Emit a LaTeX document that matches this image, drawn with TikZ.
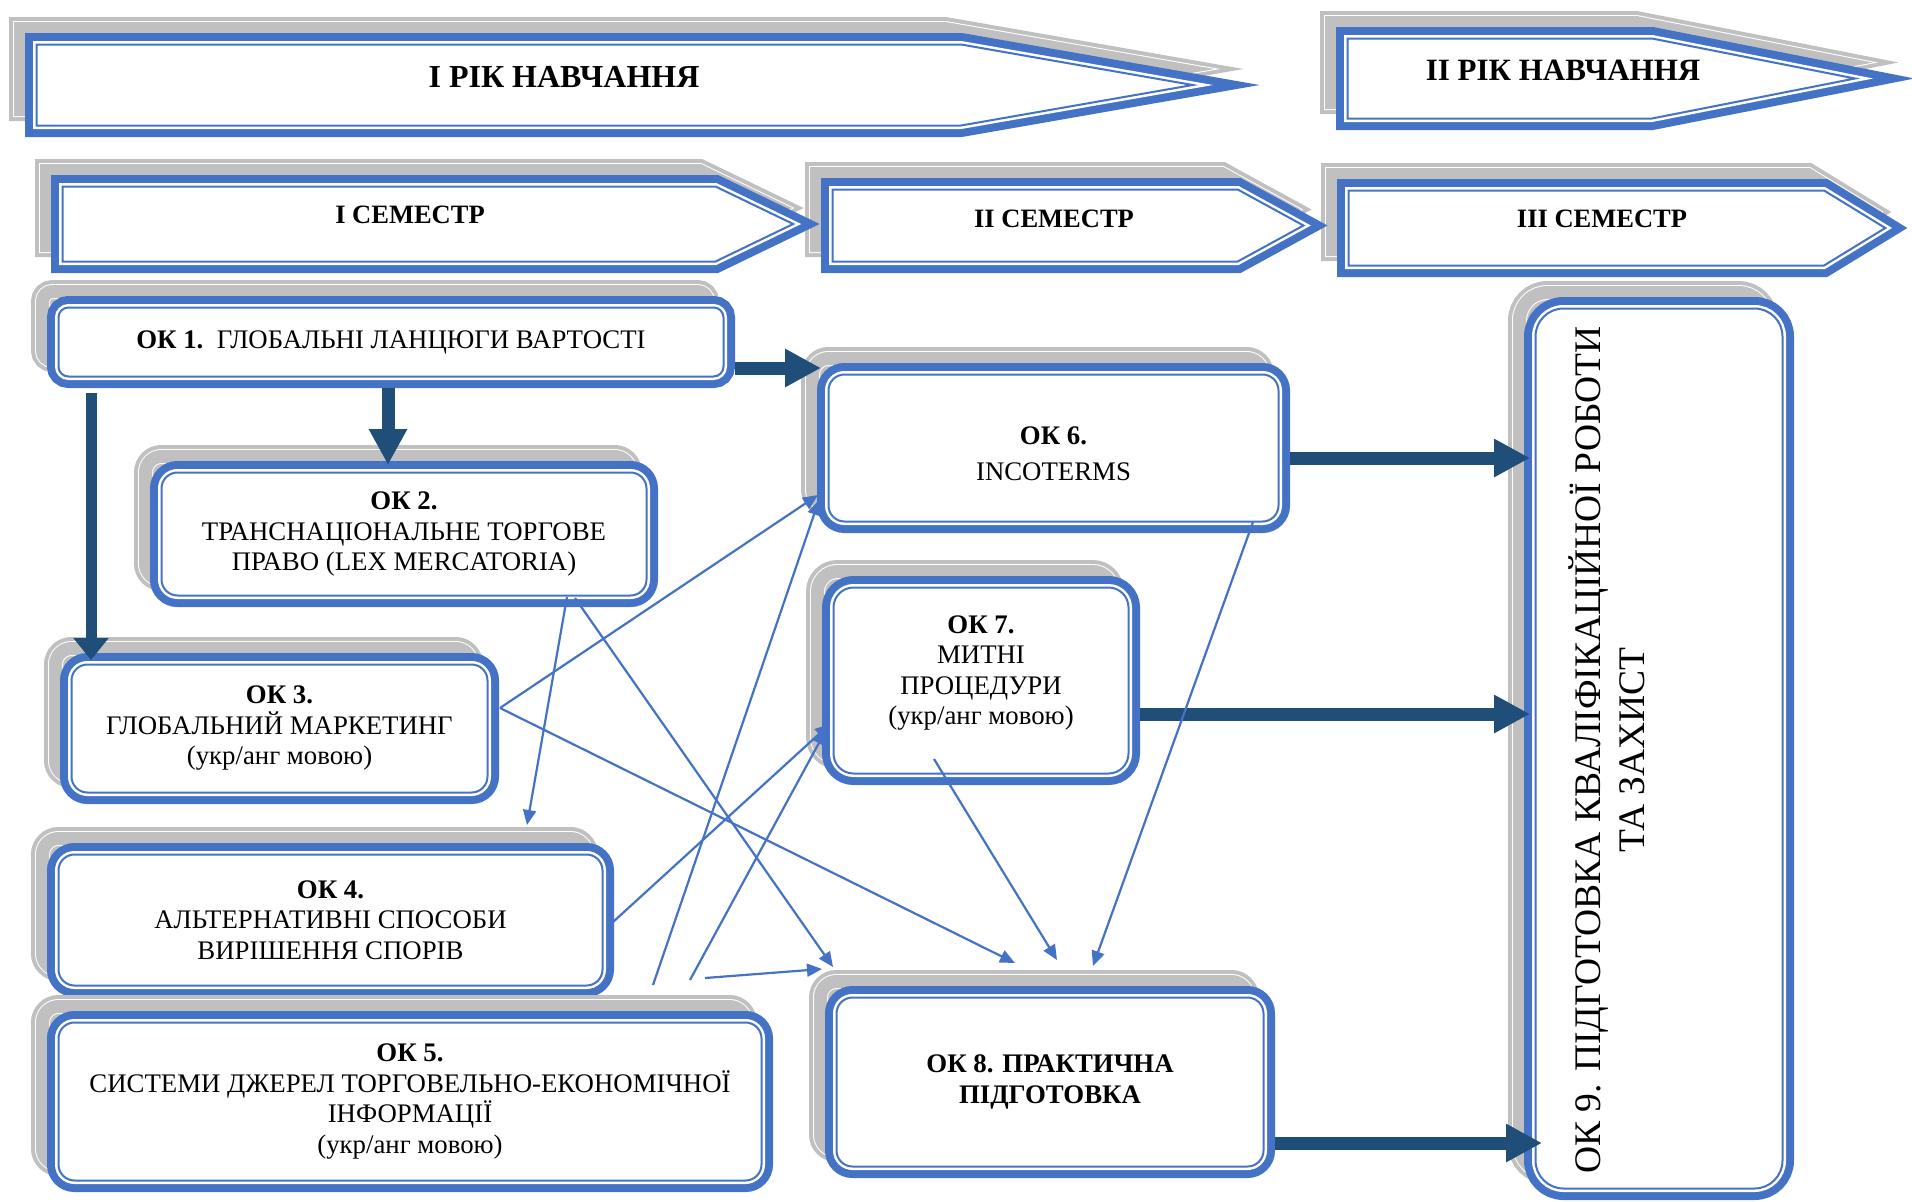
\documentclass[tikz,border=0pt]{standalone}
\usepackage{fontspec}
\setmainfont{Liberation Serif}
\usetikzlibrary{arrows.meta,calc}

\definecolor{okblue}{RGB}{68,114,196}
\definecolor{okdark}{RGB}{31,78,121}
\definecolor{okshadow}{RGB}{192,192,192}

\newcommand{\boxfont}{\fontsize{26.8}{30.5}\selectfont}

\begin{document}
\begin{tikzpicture}[x=1pt, y=-1pt,
	okframe/.style={draw=okblue, line width=2pt, fill=white,
		preaction={fill=okshadow, draw=okshadow, line width=23pt, transform canvas={xshift=-16pt, yshift=16pt}},
		preaction={draw=white, line width=15pt, transform canvas={xshift=-16pt, yshift=16pt}},
		preaction={draw=okshadow, line width=13pt, transform canvas={xshift=-16pt, yshift=16pt}},
		preaction={draw=okblue, line width=23pt},
		preaction={draw=white, line width=7pt}},
	okbox/.style={okframe, rounded corners=16pt, outer sep=11.5pt, inner sep=0pt, align=center, font=\boxfont},
	titletext/.style={anchor=base, font=\fontsize{26.5}{30}\selectfont\bfseries},
	bigarrow/.style={draw=okdark, line width=13pt, -{Triangle[length=36pt, width=36pt]}},
	link/.style={draw=okblue, line width=2.2pt, -{Triangle[length=15pt, width=13pt]}}]
		\useasboundingbox (0,0) rectangle (1912,1202);

		\draw[okframe] (36.5,44.5) -- (961,44.5) -- (1192.7,85) -- (961,125.5) -- (36.5,125.5) -- cycle;
		\draw[okframe] (1347.5,38.5) -- (1652,38.5) -- (1855,78.5) -- (1652,118.5) -- (1347.5,118.5) -- cycle;
		\node[titletext, font=\fontsize{32}{36}\selectfont\bfseries] (year1) at (564,87) {I РІК НАВЧАННЯ};
		\node[titletext, font=\fontsize{31}{36}\selectfont\bfseries] (year2) at (1563,80) {II РІК НАВЧАННЯ};

		\draw[okframe] (1348.5,190.5) -- (1824,190.5) -- (1885.3,228) -- (1824,265.5) -- (1348.5,265.5) -- cycle;
		\draw[okframe] (832.5,189.5) -- (1237.7,189.5) -- (1303.5,225.5) -- (1237.7,261.5) -- (832.5,261.5) -- cycle;
		\draw[okframe] (62.5,186.5) -- (715.5,186.5) -- (793.2,224) -- (715.5,261.5) -- (62.5,261.5) -- cycle;
		\node[titletext] (sem1) at (410,223) {I СЕМЕСТР};
		\node[titletext] (sem2) at (1054,227) {II СЕМЕСТР};
		\node[titletext] (sem3) at (1602,227) {III СЕМЕСТР};

		\node[okbox, minimum width=665pt, minimum height=69pt, rounded corners=10pt] (ok1) at (391,342) {\textbf{ОК 1.}\ \ ГЛОБАЛЬНІ ЛАНЦЮГИ ВАРТОСТІ};
		\node[okbox, minimum width=485pt, minimum height=123pt] (ok2) at (404,534) {\textbf{ОК 2.}\\ТРАНСНАЦІОНАЛЬНЕ ТОРГОВЕ\\ПРАВО (LEX MERCATORIA)};
		\node[okbox, minimum width=416pt, minimum height=128pt] (ok3) at (279.5,728.5) {\textbf{ОК 3.}\\ГЛОБАЛЬНИЙ МАРКЕТИНГ\\(укр/анг мовою)};
		\node[okbox, minimum width=544pt, minimum height=131pt] (ok4) at (330.5,920) {\textbf{ОК 4.}\\АЛЬТЕРНАТИВНІ СПОСОБИ\\ВИРІШЕННЯ СПОРІВ};
		\node[okbox, minimum width=703pt, minimum height=158pt] (ok5) at (410,1101.5) {\textbf{ОК 5.}\\СИСТЕМИ ДЖЕРЕЛ ТОРГОВЕЛЬНО-ЕКОНОМІЧНОЇ\\ІНФОРМАЦІЇ\\(укр/анг мовою)};
		\node[okbox, minimum width=450pt, minimum height=147pt, text height=66pt] (ok6) at (1053.5,448) {\textbf{ОК 6.}\\[6pt]INCOTERMS};
		\node[okbox, minimum width=295pt, minimum height=186pt, rounded corners=20pt, text depth=21pt] (ok7) at (981,680.5) {\textbf{ОК 7.}\\МИТНІ\\ПРОЦЕДУРИ\\(укр/анг мовою)};
		\node[okbox, minimum width=427pt, minimum height=169pt, font=\boxfont\bfseries] (ok8) at (1050,1082) {ОК 8. ПРАКТИЧНА\\ПІДГОТОВКА};
		\node[okbox, minimum width=247pt, minimum height=880pt, rounded corners=28pt] (ok9) at (1659,748.5) {};
		\node[rotate=90, align=center, font=\fontsize{37.5}{44}\selectfont] (ok9text) at (1607,750) {ОК 9. ПІДГОТОВКА КВАЛІФІКАЦІЙНОЇ РОБОТИ\\ТА ЗАХИСТ};

		\draw[bigarrow] ($(ok1.east)+(0,26)$) -- ($(ok6.west)+(4,-80)$);
		\draw[bigarrow] ($(ok1.south)+(-3,0)$) -- ($(ok2.north)+(-16,4)$);
		\draw[bigarrow, line width=11pt, -{Triangle[length=22pt, width=34pt]}] ($(ok1.south west)+(44,5)$) -- ($(ok3.north west)+(31,7)$);
		\draw[bigarrow] ($(ok6.east)+(0,10)$) -- ($(ok9.west)+(6,-290.5)$);
		\draw[bigarrow] ($(ok7.east)+(0,33.5)$) -- ($(ok9.west)+(6,-34.5)$);
		\draw[bigarrow] ($(ok8.east)+(0,61)$) -- ($(ok9.west)+(18,394.5)$);

		\draw[link] ($(ok2.south)+(163,-10)$) -- ($(ok4.north)+(196.5,-18)$);
		\draw[link] ($(ok2.south)+(171,-9)$) -- ($(ok8.north)+(-217,-19)$);
		\draw[link] ($(ok3.east)+(1,-20.5)$) -- ($(ok6.west)+(1,47)$);
		\draw[link] ($(ok3.east)+(1,-20.5)$) -- ($(ok8.north)+(-35,-23)$);
		\draw[link] ($(ok4.east)+(-1,2)$) -- ($(ok7.west)+(8,43.5)$);
		\draw[link] ($(ok5.north)+(243,-26)$) -- ($(ok6.west)+(2,52)$);
		\draw[link] ($(ok5.north)+(280,-31)$) -- ($(ok7.west)+(4,49.5)$);
		\draw[link] ($(ok5.north)+(295,-33)$) -- ($(ok8.north west)+(-3,-17)$);
		\draw[link] ($(ok7.south)+(-47,-26)$) -- ($(ok8.north)+(7,-26)$);
		\draw[link] ($(ok6.south)+(199.5,-11)$) -- ($(ok8.north)+(43,-20)$);
\end{tikzpicture}
\end{document}
